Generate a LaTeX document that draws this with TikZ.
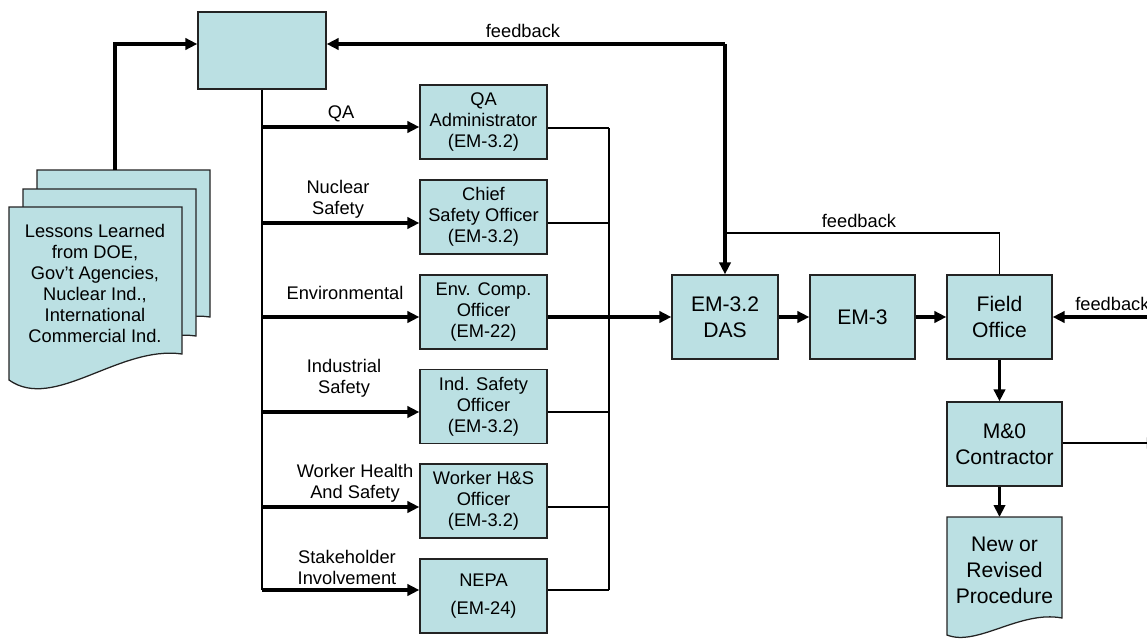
\documentclass[tikz,border=0pt]{standalone}
\usepackage{fontspec}
\setmainfont{Liberation Sans}
\usetikzlibrary{arrows.meta}
\definecolor{bfill}{RGB}{187,224,227}
\definecolor{bline}{RGB}{35, 35, 35}
\tikzset{
  % Office box (middle column)
  OB/.style={rectangle,draw=bline,fill=bfill,line width=0.9pt,
             minimum width=#1,minimum height=1.85cm,align=center,
             font=\fontsize{13}{15}\selectfont,inner sep=0pt},
  OB/.default=3.175cm,
  % Flow box (right row)
  FB/.style={rectangle,draw=bline,fill=bfill,line width=0.9pt,
             minimum width=#1,minimum height=2.1cm,align=center,
             font=\fontsize{15}{18.5}\selectfont,inner sep=0pt},
  FB/.default=2.65cm,
  % Document sheet
  DS/.style={draw=bline,fill=bfill,line width=0.9pt},
  % Plain labels
  LB/.style={align=center,font=\fontsize{13}{15}\selectfont,inner sep=0pt},
  % Arrows and lines
  Arr/.style ={-{Triangle[length=8.5pt,width=8pt]},line width=2.5pt},
  TArr/.style={-{Triangle[length=8pt,width=7.5pt]},line width=1pt},
  Ln/.style  ={line width=1pt},
}
\begin{document}
\begin{tikzpicture}[x=0.025cm,y=-0.025cm]
      \useasboundingbox (0,0) rectangle (1147,639);
      \clip (0,0) rectangle (1147,639);
      % Stack of lessons-learned sheets
      \foreach \dx/\dy in {28/-37,14/-18,0/0}
        \draw[DS,shift={(\dx,\dy)}] (9,207) -- (182,207) -- (182,354)
             .. controls (119,345) and (54,412) .. (9,380) -- cycle;
      \node[LB] at (95,283.5) (ll)
            {Lessons Learned\\from DOE,\\Gov’t Agencies,\\Nuclear Ind.,\\
             International\\Commercial Ind.};
      \coordinate (lltop) at (115,170);
      % Hub box and right flow row
      \node[OB=3.2cm,minimum height=1.925cm] at (262,50.5) (hub) {};
      \node[FB] at (725,317) (das) {EM-3.2\\DAS};
      \node[FB=2.625cm] at (862.5,317) (em3) {EM-3};
      \node[FB=2.625cm] at (999.5,317) (fo) {Field\\Office};
      \node[FB=2.875cm] at (1004.5,444) (mo) {M\&0\\Contractor};
      \coordinate (fbc) at (das.north |- 0,44);
      \draw[Arr] (lltop) |- (hub.west |- fbc);
      % Office column
      \node[OB] at (483.5,122) (qa) {QA\\Administrator\\(EM-3.2)};
      \node[OB] at (483.5,217) (cso) {Chief\\Safety Officer\\(EM-3.2)};
      \node[OB] at (483.5,312) (eco) {Env. Comp.\\Officer\\(EM-22)};
      \node[OB] at (483.5,406.5) (iso) {Ind. Safety\\Officer\\(EM-3.2)};
      \node[OB] at (483.5,501) (whs) {Worker H\&S\\Officer\\(EM-3.2)};
      \node[OB] at (483.5,596) (nepa) {NEPA\\[5pt](EM-24)};
      % Branch labels
      \node[LB] at (341,114) (lqa) {QA};
      \node[LB] at (338,199.5) (lns) {Nuclear\\Safety};
      \node[LB] at (345,293) (lenv) {Environmental};
      \node[LB] at (344,378) (lis) {Industrial\\Safety};
      \node[LB] at (355,483) (lwh) {Worker Health\\And Safety};
      \node[LB] at (347,567.5) (lsi) {Stakeholder\\Involvement};
      % Trunk and branches
      \draw[Ln] (hub.south) -- (hub.south |- 0,590);
      \foreach \b/\y in {qa/127,cso/223,eco/317,iso/412,whs/507,nepa/590}
        \draw[Arr] (hub.south |- 0,\y) -- (\b.west |- 0,\y);
      % Merge to the right
      \coordinate (mj) at (609,317);
      \foreach \b/\y in {qa/128,cso/223,iso/412,whs/507,nepa/590}
        \draw[Ln] (\b.east |- 0,\y) -- (mj |- 0,\y);
      \draw[Ln] (mj |- 0,128) -- (mj |- 0,590);
      \draw[Arr] (eco.east |- das.west) -- (das.west);
      % Flow row
      \draw[Arr] (das) -- (em3);
      \draw[Arr] (em3) -- (fo);
      \draw[Arr] (fo.south) -- (fo.south |- mo.north);
      \coordinate (prtop) at (fo.south |- 0,517);
      \draw[Arr] (fo.south |- mo.south) -- (prtop);
      \draw[DS] (947,517) -- (1062,517) -- (1062,618)
           .. controls (1020,610) and (977,647) .. (947,635) -- cycle;
      \node[LB,font=\fontsize{15}{18.5}\selectfont] at (1004.5,570) (pr)
            {New or\\Revised\\Procedure};
      \coordinate (mor) at (1158,443);
      \draw[TArr,line width=1.6pt] (mo.east |- mor) -- (mor);
      % Feedback loops
      \draw[Arr] (fbc) -- (hub.east |- fbc);
      \draw[Arr] (fbc) -- (das.north);
      \node[LB] at (523,31) (fb1) {feedback};
      \draw[Ln] (fo.north) |- (das.north |- 0,233);
      \node[LB] at (859,221) (fb2) {feedback};
      \coordinate (fbr) at (1152,317);
      \draw[Arr] (fbr) -- (fo.east);
      \node[LB,anchor=west] at (1075,304) (fb3) {feedback};
    \end{tikzpicture}
\end{document}
